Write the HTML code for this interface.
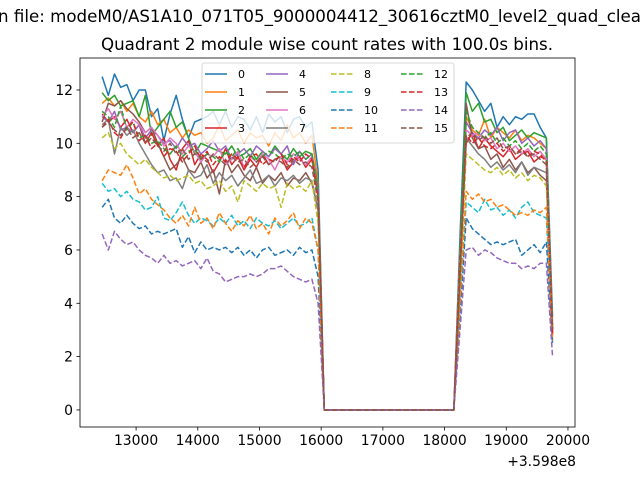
<!DOCTYPE html>
<html><head><meta charset="utf-8"><style>
body{margin:0;background:#fff;}
svg{display:block;font-family:"DejaVu Sans","Liberation Sans",sans-serif;}
</style></head><body>
<svg id="chart" width="640" height="480" viewBox="0 0 640 480">
<rect width="640" height="480" fill="#fff"/>
<text x="-2" y="22" font-size="16.67" fill="#000">n file: modeM0/AS1A10_071T05_9000004412_30616cztM0_level2_quad_clean.evt</text>
<text x="327" y="50" font-size="16.67" text-anchor="middle" fill="#000">Quadrant 2 module wise count rates with 100.0s bins.</text>
<g id="plot"></g>
</svg>
<script>
const times=[12450,12550,12650,12750,12850,12950,13050,13150,13250,13350,13450,13550,13650,13750,13850,13950,14050,14150,14250,14350,14450,14550,14650,14750,14850,14950,15050,15150,15250,15350,15450,15550,15650,15750,15850,15950,16050,16150,16250,16350,16450,16550,16650,16750,16850,16950,17050,17150,17250,17350,17450,17550,17650,17750,17850,17950,18050,18150,18250,18350,18450,18550,18650,18750,18850,18950,19050,19150,19250,19350,19450,19550,19650,19750];
const gap=[0,0,0,0,0,0,0,0,0,0,0,0,0,0,0,0,0,0,0,0,0,0];
const xTicks=[13000,14000,15000,16000,17000,18000,19000,20000];
const yTicks=[0,2,4,6,8,10,12];
const seriesNames=["0","1","2","3","4","5","6","7","8","9","10","11","12","13","14","15"];
const s0L=[12.5,11.8,12.6,12.1,12.2,11.6,12.0,12.0,11.0,11.3,10.1,11.1,11.8,10.9,10.2,10.8,10.9,11.0,11.2,10.7,11.2,10.6,11.0,10.9,10.5,11.0,10.4,11.1,10.8,11.0,10.4,10.9,11.0,10.6,10.8,9.0];
const s0R=[6.5,12.3,12.0,11.6,11.2,11.5,10.6,11.0,10.7,11.0,10.9,11.1,11.1,10.6,10.2,3.5];
const s1L=[11.5,11.7,11.4,11.6,11.2,11.5,11.0,10.8,11.2,10.7,10.9,10.4,10.6,10.2,10.5,10.3,10.4,10.0,10.2,10.7,10.1,10.3,10.5,10.0,10.4,10.2,10.3,9.9,10.4,10.1,10.7,10.2,10.4,10.0,10.3,8.5];
const s1R=[6,11.0,10.5,10.3,10.9,10.2,10.6,10.4,10.2,10.5,10.1,10.3,10.2,10.0,9.8,3.2];
const s2L=[11.9,11.6,11.8,11.4,11.5,11.6,11.0,11.8,10.3,10.6,10.9,11.2,10.6,10.8,10.2,9.6,10.0,9.9,9.8,9.7,9.6,9.9,9.5,9.6,9.8,9.4,9.7,9.5,9.9,9.6,9.4,9.8,9.5,9.7,9.6,8.4];
const s2R=[6,11.9,11.2,11.5,10.8,10.9,10.4,10.6,10.1,10.3,10.5,10.2,10.4,10.3,10.2,3.0];
const s3L=[11.1,10.8,11.0,10.6,10.9,10.4,10.7,10.0,10.4,9.9,10.2,9.4,9.0,9.8,10.1,9.2,9.6,9.4,8.9,9.3,9.8,9.2,9.5,9.0,9.4,9.1,9.6,9.2,9.4,9.5,9.0,9.3,9.5,9.1,9.4,8.0];
const s3R=[5.5,10.0,10.4,9.8,10.2,9.9,9.7,9.5,9.8,9.4,9.6,9.7,9.3,9.5,9.4,2.8];
const s4L=[11.0,10.8,11.2,10.5,10.6,10.4,10.7,10.2,10.5,10.3,10.0,10.1,9.8,10.2,9.9,10.0,9.6,9.8,10.1,9.7,9.9,9.4,9.6,9.8,9.5,9.9,9.7,9.5,9.8,9.6,9.9,9.2,9.7,9.4,9.6,8.2];
const s4R=[5.5,10.8,10.4,10.2,10.5,10.3,10.6,10.1,10.4,10.5,10.0,10.2,9.9,10.1,9.8,3.0];
const s5L=[10.8,11.5,11.4,11.6,11.3,11.1,10.8,10.4,10.6,10.0,9.5,9.0,9.2,9.5,9.0,8.9,9.3,8.7,9.0,8.1,9.4,8.9,9.2,8.8,8.6,9.1,8.5,8.8,8.6,8.9,8.4,8.7,8.6,8.9,8.5,7.5];
const s5R=[5,11.5,10.2,9.8,9.9,9.4,9.6,9.1,9.4,9.0,9.3,8.9,9.1,8.8,8.6,3.0];
const s6L=[11.0,11.3,10.9,11.2,10.6,10.9,10.7,10.4,10.6,10.3,9.9,10.2,10.0,9.6,9.9,9.7,9.3,9.6,9.5,9.8,9.2,9.4,9.7,9.1,9.5,9.3,9.6,9.4,9.0,9.5,9.3,9.6,9.4,9.2,9.5,8.0];
const s6R=[5.5,10.5,10.3,10.4,10.1,10.2,9.8,10.0,9.7,9.9,9.6,9.8,9.5,9.7,9.4,2.8];
const s7L=[10.7,10.9,9.6,10.6,10.3,10.5,10.0,9.6,9.2,8.9,9.0,8.6,8.7,8.3,9.0,8.7,8.8,9.2,8.5,8.9,8.6,8.8,8.4,8.7,9.0,8.5,8.6,8.8,8.4,8.7,8.6,8.8,8.5,8.7,8.6,7.5];
const s7R=[5,10.2,9.9,9.6,9.4,9.1,9.3,9.0,9.2,8.9,9.3,8.8,9.1,9.0,8.9,2.8];
const s8L=[10.2,10.4,9.8,10.0,9.6,9.4,9.2,9.4,9.1,8.9,8.7,8.8,8.6,8.7,8.8,8.5,8.6,8.3,8.4,8.6,8.2,8.4,7.8,8.6,8.4,8.2,8.5,8.3,8.4,7.6,8.5,8.3,8.4,8.2,8.6,7.0];
const s8R=[4.5,9.6,9.4,9.2,9.0,8.9,9.1,8.8,9.0,8.7,8.9,8.6,8.8,8.7,8.4,2.8];
const s9L=[8.5,8.2,8.3,8.0,8.2,7.9,7.8,7.5,7.6,8.0,7.2,7.1,7.4,7.8,7.3,7.0,7.2,7.1,6.9,7.2,7.0,7.3,6.9,7.1,6.8,7.2,7.0,6.9,7.1,6.8,7.0,7.2,6.9,7.0,7.2,6.0];
const s9R=[4,7.8,7.6,7.4,7.9,7.5,7.6,7.3,7.5,7.2,7.6,7.8,7.4,7.3,7.2,2.6];
const s10L=[7.6,7.9,7.2,7.0,7.3,7.0,6.8,6.9,6.6,6.7,6.6,6.7,6.8,6.1,6.5,5.9,6.3,6.0,6.1,6.0,6.1,5.9,6.1,5.8,6.0,5.7,6.0,6.1,5.8,5.9,6.0,5.8,6.1,5.9,6.0,5.0];
const s10R=[3.5,7.2,6.8,6.6,6.4,6.2,6.3,6.2,6.3,6.4,5.8,6.0,6.2,5.9,6.3,2.5];
const s11L=[8.6,9.0,8.9,8.8,9.2,8.7,8.1,8.3,7.9,7.7,7.5,7.2,7.0,7.3,6.9,7.6,7.0,7.2,6.8,7.4,7.0,6.7,7.1,6.9,7.3,6.8,7.0,6.6,7.2,6.9,7.1,7.4,6.8,7.2,7.0,6.0];
const s11R=[4,8.2,7.9,8.1,7.8,7.9,7.6,7.7,7.5,7.3,7.4,7.3,7.5,7.4,7.6,2.6];
const s12L=[11.2,11.0,10.6,11.4,10.5,10.8,10.2,10.3,10.0,10.1,9.8,9.6,9.9,9.5,9.7,9.8,9.4,9.6,9.5,9.3,9.7,9.5,9.8,9.4,9.6,9.3,9.5,9.7,9.6,9.4,9.6,9.5,9.7,9.4,9.6,8.0];
const s12R=[5,11.2,10.6,10.4,10.2,10.4,10.0,10.2,9.9,10.1,9.8,10.0,9.7,9.9,9.6,3.0];
const s13L=[10.6,10.9,10.4,10.2,10.6,10.8,10.1,10.3,9.8,10.0,9.5,9.8,9.7,9.3,9.6,9.9,9.4,9.7,9.2,9.5,9.3,9.6,9.4,9.1,9.5,9.6,9.2,9.4,9.3,9.6,9.2,9.5,9.3,9.6,9.4,8.0];
const s13R=[5.5,10.3,10.0,10.2,9.9,9.8,10.0,9.7,9.9,9.6,9.8,9.5,9.7,9.6,9.3,2.8];
const s14L=[6.6,6.0,6.7,6.4,6.2,6.3,6.0,5.8,5.7,5.5,5.8,5.5,5.6,5.4,5.5,5.6,5.3,5.7,5.2,5.1,4.8,4.9,5.0,5.0,5.1,5.0,5.1,5.3,5.3,5.4,5.2,5.0,4.9,4.8,4.9,4.0];
const s14R=[3,6.0,6.1,5.8,6.0,5.9,5.7,5.6,5.5,5.5,5.3,5.4,5.3,5.5,5.5,2.0];
const s15L=[10.6,10.8,10.5,10.3,10.6,10.2,10.4,10.0,10.2,9.9,9.7,10.0,9.6,9.8,9.4,9.6,9.5,9.3,9.6,9.4,9.2,9.5,9.3,9.4,9.1,9.3,9.5,9.2,9.4,9.3,9.1,9.4,9.2,9.3,9.1,7.8];
const s15R=[5,10.2,10.4,10.1,10.3,10.0,10.2,9.8,9.9,9.6,9.7,9.5,9.6,9.4,9.2,3.0];
const seriesL=[s0L,s1L,s2L,s3L,s4L,s5L,s6L,s7L,s8L,s9L,s10L,s11L,s12L,s13L,s14L,s15L];
const seriesR=[s0R,s1R,s2R,s3R,s4R,s5R,s6R,s7R,s8R,s9R,s10R,s11R,s12R,s13R,s14R,s15R];

const colors=["#1f77b4","#ff7f0e","#2ca02c","#d62728","#9467bd","#8c564b","#e377c2","#7f7f7f","#bcbd22","#17becf"];
const L=80,R=575,T=58,B=427;
const X0=12091,X1=20114,Y0=-0.64,Y1=13.2;
const xs=v=>L+(v-X0)/(X1-X0)*(R-L);
const ys=v=>B-(v-Y0)/(Y1-Y0)*(B-T);
const NS="http://www.w3.org/2000/svg";
const g=document.getElementById('plot');
function mk(tag,attrs,parent){const e=document.createElementNS(NS,tag);for(const k in attrs)e.setAttribute(k,attrs[k]);(parent||g).appendChild(e);return e;}

const clip=mk('clipPath',{id:'clipArea'});
mk('rect',{x:L,y:T,width:R-L,height:B-T},clip);
const lines=mk('g',{'clip-path':'url(#clipArea)'});


for(let i=0;i<16;i++){
  const vals=seriesL[i].concat(gap,seriesR[i]);
  let d='';
  vals.forEach((v,j)=>{d+=(j?'L':'M')+xs(times[j]).toFixed(2)+','+ys(v).toFixed(2);});
  const p=mk('path',{d:d,fill:'none',stroke:colors[i%10],'stroke-width':1.5,'stroke-linejoin':'round'},lines);
  if(i>=8)p.setAttribute('stroke-dasharray','5.55,2.4');
  
  
}
const frame=mk('rect',{x:L,y:T,width:R-L,height:B-T,fill:'none',stroke:'#000','stroke-width':0.8});


xTicks.forEach(t=>{
  const x=xs(t);
  const tk=mk('line',{x1:x,x2:x,y1:B,y2:B+3.5,stroke:'#000','stroke-width':0.8});
  
  
  const tx=mk('text',{x:x,y:B+18,'font-size':13.9,'text-anchor':'middle',fill:'#000'});
  tx.textContent=t;
  
  
});
yTicks.forEach(t=>{
  const y=ys(t);
  const tk=mk('line',{x1:L-3.5,x2:L,y1:y,y2:y,stroke:'#000','stroke-width':0.8});
  
  
  const tx=mk('text',{x:L-7,y:y+5,'font-size':13.9,'text-anchor':'end',fill:'#000'});
  tx.textContent=t;
  
  
});
const off=mk('text',{x:576,y:466,'font-size':13.9,'text-anchor':'end',fill:'#000'});
off.textContent='+3.598e8';



const leg=mk('g',{});


mk('rect',{x:202,y:63,width:252,height:80,rx:2.5,fill:'#fff','fill-opacity':0.8,stroke:'#cccccc','stroke-width':0.8},leg);
const colX=[205,266,331,401];
const rowY=[74,92,110,128];
for(let i=0;i<16;i++){
  const c=Math.floor(i/4),r=i%4;
  const x=colX[c],y=rowY[r];
  const e=mk('g',{},leg);
  
  
  const ln=mk('line',{x1:x,x2:x+22,y1:y,y2:y,stroke:colors[i%10],'stroke-width':1.5},e);
  if(i>=8)ln.setAttribute('stroke-dasharray','5.55,2.4');
  const tx=mk('text',{x:x+33,y:y+4,'font-size':11,fill:'#000'},e);
  tx.textContent=seriesNames[i];
}
</script>
</body></html>
